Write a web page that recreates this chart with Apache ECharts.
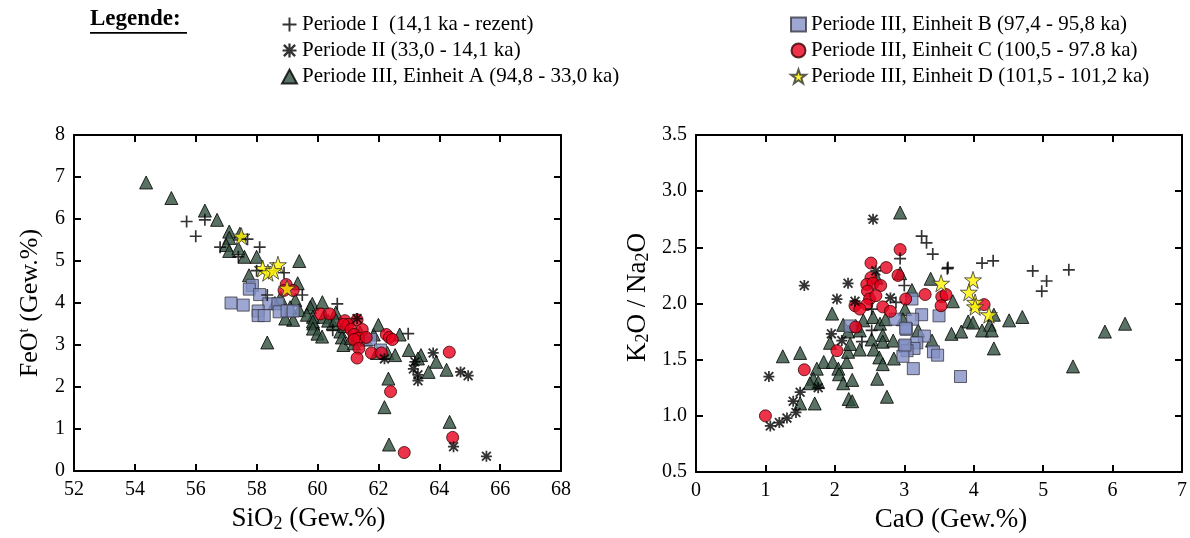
<!DOCTYPE html>
<html>
<head>
<meta charset="utf-8">
<script src="https://cdn.jsdelivr.net/npm/echarts@6/dist/echarts.min.js"></script>
<style>html,body{margin:0;padding:0;background:#fff;}#c{width:1190px;height:538px;}</style>
</head>
<body>
<div id="c"></div>
<script>
// ---------- series names ----------
const N1 = 'Periode I  (14,1 ka - rezent)';
const N2 = 'Periode II (33,0 - 14,1 ka)';
const N3 = 'Periode III, Einheit A (94,8 - 33,0 ka)';
const N4 = 'Periode III, Einheit B (97,4 - 95,8 ka)';
const N5 = 'Periode III, Einheit C (100,5 - 97.8 ka)';
const N6 = 'Periode III, Einheit D (101,5 - 101,2 ka)';

// ---------- tick values [min, max, interval] ----------
const leftXTicks = [52, 68, 2];
const leftYTicks = [0, 8, 1];
const rightXTicks = [0, 7, 1];
const rightYTicks = [0.5, 3.5, 0.5];

// ---------- left plot: SiO2 vs FeOt ----------
const leftP1 = [[55.7,5.94],[56.3,5.98],[56.0,5.59],[56.8,5.33],[57.7,5.52],[58.1,5.33],[57.4,5.1],[58.0,4.77],[58.9,4.72],[58.35,4.19],[59.5,4.19],[60.65,3.98],[62.98,3.27],[60.5,3.35]];
const leftP2 = [[61.3,3.63],[62.2,2.67],[63.8,2.81],[63.2,2.6],[63.15,2.43],[63.3,2.15],[63.3,2.29],[64.7,2.36],[64.95,2.27],[64.47,0.58],[65.55,0.35]];
const leftA = [[54.37,6.87],[55.2,6.5],[56.3,6.2],[56.7,5.98],[57.1,5.7],[57.45,5.65],[57.1,5.55],[57.0,5.38],[57.1,5.24],[57.6,5.1],[58.0,5.1],[59.4,5.0],[57.75,4.66],[59.35,4.47],[58.35,3.06],[58.78,4.12],[59.27,4.07],[59.83,3.98],[60.16,4.02],[60.6,3.77],[59.86,3.51],[59.2,3.6],[58.94,3.63],[59.4,3.83],[59.76,3.9],[59.85,3.67],[59.65,3.72],[60.2,3.67],[59.85,3.56],[60.5,3.51],[59.85,3.39],[60.0,3.27],[60.15,3.2],[60.35,3.58],[60.75,3.32],[60.8,3.18],[60.85,3.0],[61.2,3.04],[61.1,3.16],[61.6,3.13],[61.85,3.25],[62.0,3.48],[61.95,2.81],[62.3,2.81],[62.55,2.76],[62.7,3.25],[63.0,2.88],[63.4,2.76],[63.9,2.6],[63.65,2.36],[64.24,2.41],[63.3,2.68],[62.33,2.2],[62.2,1.52],[62.35,0.63],[64.34,1.17],[57.4,5.3],[58.6,4.0],[59.1,3.9],[60.6,3.6],[61.4,3.3],[60.9,3.45]];
const leftB = [[57.16,4.0],[57.56,3.95],[57.86,4.42],[57.76,4.33],[58.1,4.2],[58.4,3.98],[58.7,3.98],[58.05,3.81],[58.05,3.7],[58.25,3.7],[58.74,3.79],[59.0,3.81],[59.2,3.81],[61.74,3.13],[62.07,2.88]];
const leftC = [[58.97,4.44],[58.9,4.3],[59.2,4.3],[60.1,3.74],[60.4,3.74],[60.9,3.58],[61.3,3.6],[61.0,3.49],[60.85,3.49],[61.1,3.37],[61.47,3.37],[61.2,3.25],[61.35,3.16],[61.6,3.18],[61.2,3.13],[62.26,3.25],[62.36,3.18],[62.46,3.13],[61.36,2.92],[61.77,2.81],[62.1,2.81],[61.3,2.69],[64.33,2.83],[62.4,1.89],[64.44,0.8],[62.85,0.44]];
const leftD = [[57.5,5.59],[58.2,4.82],[58.7,4.91],[58.37,4.72],[58.55,4.77],[59.0,4.35]];

// ---------- right plot: CaO vs K2O/Na2O ----------
const rightP1 = [[3.25,2.6],[3.32,2.54],[3.41,2.44],[3.63,2.32],[3.62,2.31],[4.12,2.36],[4.28,2.38],[4.85,2.29],[5.05,2.2],[4.98,2.11],[5.37,2.3],[2.94,2.4],[3.0,2.16],[2.88,2.01],[2.53,1.95],[2.53,1.76],[2.39,1.66]];
const rightP2 = [[2.55,2.75],[1.56,2.16],[2.19,2.18],[2.03,2.04],[2.59,2.29],[2.29,2.02],[2.8,2.05],[1.95,1.73],[2.1,1.67],[1.05,1.35],[1.5,1.21],[1.4,1.13],[1.44,1.03],[1.31,0.98],[1.2,0.94],[1.07,0.91],[1.76,1.25]];
const rightA = [[2.94,2.81],[3.38,2.22],[3.11,2.12],[3.7,2.02],[3.01,1.95],[3.92,1.84],[3.99,1.83],[4.29,1.9],[4.23,1.81],[4.51,1.85],[4.7,1.88],[4.12,1.76],[4.26,1.76],[3.68,1.73],[3.82,1.75],[3.4,1.67],[4.29,1.6],[5.43,1.44],[5.89,1.75],[6.18,1.82],[2.94,2.27],[2.6,2.23],[1.96,1.91],[2.12,1.81],[2.3,1.8],[2.41,1.85],[2.55,1.88],[2.65,1.82],[2.73,1.86],[2.19,1.75],[2.36,1.76],[2.69,1.72],[2.98,1.86],[3.2,1.76],[1.25,1.53],[1.5,1.56],[1.93,1.65],[1.84,1.48],[1.97,1.48],[2.17,1.48],[2.19,1.57],[2.22,1.64],[2.36,1.59],[2.53,1.68],[2.56,1.59],[2.69,1.66],[2.64,1.52],[2.69,1.46],[2.84,1.67],[2.85,1.51],[1.74,1.42],[2.05,1.42],[2.06,1.37],[1.69,1.33],[1.76,1.3],[1.64,1.29],[2.12,1.29],[2.25,1.32],[2.61,1.33],[1.5,1.11],[1.71,1.11],[2.2,1.15],[2.25,1.13],[2.75,1.17]];
const rightB = [[3.5,1.89],[3.25,1.9],[3.12,1.86],[3.03,1.77],[3.29,1.71],[3.18,1.65],[3.0,1.62],[3.14,1.6],[3.04,1.58],[2.98,1.53],[3.42,1.57],[3.48,1.54],[3.13,1.42],[3.81,1.35],[3.11,2.04],[2.87,1.86],[3.02,1.78],[2.22,1.8],[3.01,1.63]];
const rightC = [[2.94,2.48],[2.52,2.36],[2.74,2.32],[2.91,2.25],[2.52,2.23],[2.46,2.17],[2.55,2.18],[2.66,2.16],[2.47,2.11],[2.5,2.04],[2.59,2.07],[2.46,1.99],[2.29,1.98],[2.36,1.95],[2.69,1.97],[2.8,1.93],[3.02,2.04],[2.3,1.79],[2.03,1.58],[1.56,1.41],[1.0,1.0],[3.3,2.08],[3.54,2.06],[3.6,2.08],[3.53,1.98],[4.15,1.99]];
const rightD = [[3.53,2.18],[3.99,2.21],[3.93,2.1],[4.02,2.01],[4.02,1.97],[4.22,1.9]];

// ---------- styling ----------
const FONT = "'Liberation Serif', 'Times New Roman', serif";
const PLUS = 'path://M4.3,0H5.7V4.3H10V5.7H5.7V10H4.3V5.7H0V4.3H4.3Z';
const ASTER = 'path://M0,4.2H10V5.8H0Z M4.2,0H5.8V10H4.2Z M1.6,0.4L9.6,8.4L8.4,9.6L0.4,1.6Z M8.4,0.4L9.6,1.6L1.6,9.6L0.4,8.4Z';
const STAR = 'path://M50,0 L61.8,36.2 L100,36.2 L69.1,58.6 L80.9,95 L50,72.6 L19.1,95 L30.9,58.6 L0,36.2 L38.2,36.2 Z';

const styles = {};
styles[N3] = {symbol:'triangle', size:13, itemStyle:{color:'#2f4f3d', borderColor:'#000', borderWidth:1}};
styles[N4] = {symbol:'rect', size:12, itemStyle:{color:'#8591c6', borderColor:'#3a3a44', borderWidth:1}};
styles[N5] = {symbol:'circle', size:12, itemStyle:{color:'#e8001d', borderColor:'#3a0000', borderWidth:1}};
styles[N6] = {symbol:STAR, size:17, itemStyle:{color:'#fff200', borderColor:'#333', borderWidth:1}};
styles[N1] = {symbol:PLUS, size:12, itemStyle:{color:'#000'}};
styles[N2] = {symbol:ASTER, size:11, itemStyle:{color:'#000'}};

function mk(name, data, idx) {
  const s = styles[name];
  return {type:'scatter', name:name, xAxisIndex:idx, yAxisIndex:idx, data:data,
    symbol:s.symbol, symbolSize:s.size, itemStyle:s.itemStyle, silent:true, z:2};
}

function xAx(t, grid, pos, extra) {
  return Object.assign({type:'value', gridIndex:grid, position:pos, min:t[0], max:t[1], interval:t[2],
    axisLine:{show:true, onZero:false, lineStyle:{color:'#000', width:2}},
    axisTick:{show:true, inside:true, length:7, lineStyle:{color:'#000', width:2}},
    axisLabel:{show: pos==='bottom', color:'#000', fontFamily:FONT, fontSize:20, margin:9},
    splitLine:{show:false}}, extra||{});
}
function yAx(t, grid, pos, extra) {
  return Object.assign({type:'value', gridIndex:grid, position:pos, min:t[0], max:t[1], interval:t[2],
    axisLine:{show:true, onZero:false, lineStyle:{color:'#000', width:2}},
    axisTick:{show:true, inside:true, length:7, lineStyle:{color:'#000', width:2}},
    axisLabel:{show: pos==='left', color:'#000', fontFamily:FONT, fontSize:20, margin:9},
    splitLine:{show:false}}, extra||{});
}

function rich(size) {
  return {
    m:{fontFamily:FONT, fontSize:size, color:'#000'},
    s:{fontFamily:FONT, fontSize:Math.round(size*0.65), color:'#000', padding:[10,0,0,0]},
    p:{fontFamily:FONT, fontSize:Math.round(size*0.58), color:'#000', padding:[0,0,12,0]}
  };
}

const option = {
  animation:false,
  backgroundColor:'#fff',
  grid:[
    {left:74, right:629, top:135, bottom:61},
    {left:696, right:8, top:135, bottom:61}
  ],
  xAxis:[
    xAx(leftXTicks, 0, 'bottom', {name:'{m|SiO}{s|2}{m| (Gew.%)}', nameLocation:'middle', nameGap:34,
      nameTextStyle:{rich:rich(27), padding:[0,18,0,0]}}),
    xAx(rightXTicks, 1, 'bottom', {name:'{m|CaO (Gew.%)}', nameLocation:'middle', nameGap:34,
      nameTextStyle:{rich:rich(27), padding:[0,0,0,24]}}),
    xAx(leftXTicks, 0, 'top'),
    xAx(rightXTicks, 1, 'top')
  ],
  yAxis:[
    yAx(leftYTicks, 0, 'left', {name:'{m|FeO}{p|t}{m| (Gew.%)}', nameLocation:'middle', nameGap:30,
      nameTextStyle:{rich:rich(26)}}),
    yAx(rightYTicks, 1, 'left', {name:'{m|K}{s|2}{m|O / Na}{s|2}{m|O}', nameLocation:'middle', nameGap:44,
      nameTextStyle:{rich:rich(27), padding:[0,0,0,12]},
      axisLabel:{show:true, color:'#000', fontFamily:FONT, fontSize:20, margin:9, formatter:v=>v.toFixed(1)}}),
    yAx(leftYTicks, 0, 'right'),
    yAx(rightYTicks, 1, 'right')
  ],
  legend:[
    {left:276, top:9, orient:'vertical', itemGap:5, itemWidth:15, itemHeight:14, selectedMode:false,
     data:[N1, N2, N3], textStyle:{fontFamily:FONT, fontSize:21, color:'#000'}},
    {left:785, top:9, orient:'vertical', itemGap:5, itemWidth:15, itemHeight:14, selectedMode:false,
     data:[N4, N5, N6], textStyle:{fontFamily:FONT, fontSize:21, color:'#000'}}
  ],
  graphic:[
    {type:'text', left:90, top:8, style:{text:'Legende:', font:"bold 23px 'Liberation Serif', serif", fill:'#000'}},
    {type:'rect', left:90, top:32, shape:{width:97, height:1.8}, style:{fill:'#000'}}
  ],
  series:[
    mk(N3, leftA, 0), mk(N4, leftB, 0), mk(N5, leftC, 0), mk(N6, leftD, 0), mk(N1, leftP1, 0), mk(N2, leftP2, 0),
    mk(N3, rightA, 1), mk(N4, rightB, 1), mk(N5, rightC, 1), mk(N6, rightD, 1), mk(N1, rightP1, 1), mk(N2, rightP2, 1)
  ]
};
const chart = echarts.init(document.getElementById('c'), null, {renderer:'canvas'});
chart.setOption(option);
</script>
</body>
</html>
